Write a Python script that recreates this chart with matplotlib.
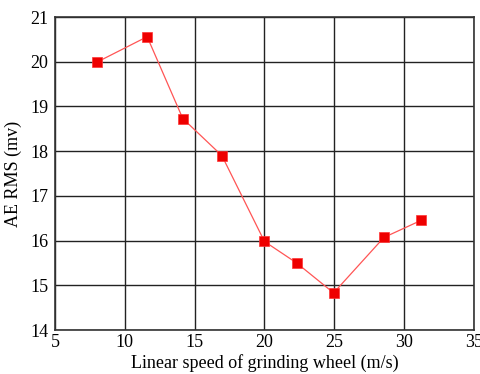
import matplotlib
matplotlib.use("Agg")
import matplotlib.pyplot as plt

# wheel speed (m/s) and AE RMS (mV)
speed = [8.0, 11.6, 14.15, 16.95, 20.0, 22.3, 24.95, 28.55, 31.2]
ae_rms = [19.99, 20.56, 18.73, 17.9, 15.98, 15.5, 14.83, 16.07, 16.45]

xticks = [5, 10, 15, 20, 25, 30, 35]
yticks = [14, 15, 16, 17, 18, 19, 20, 21]

plt.rcParams['font.family'] = ['Liberation Serif', 'DejaVu Serif']

fig = plt.figure(figsize=(4.81, 3.74), dpi=100)
ax = fig.add_axes([0.1143, 0.1176, 0.8711, 0.8369])

ax.plot(speed, ae_rms, color='#ff5555', lw=0.9, zorder=3)
ax.plot(speed, ae_rms, 's', color='#ee0000', ms=7, mec='#ff3333', mew=0.5, zorder=4)

ax.set_xlim(5, 35)
ax.set_ylim(14, 21)
ax.set_xticks(xticks)
ax.set_yticks(yticks)
ax.grid(True, color='#222222', lw=1.0)
ax.tick_params(length=0, labelsize=13)
ax.tick_params(axis='x', pad=3)
ax.tick_params(axis='y', pad=5)
for s in ax.spines.values():
    s.set_color('#333333')
    s.set_linewidth(1.2)

ax.set_xlabel('Linear speed of grinding wheel (m/s)', fontsize=13, labelpad=2)
ax.set_ylabel('AE RMS (mv)', fontsize=13, labelpad=6)

fig.savefig('out.png', dpi=100)
